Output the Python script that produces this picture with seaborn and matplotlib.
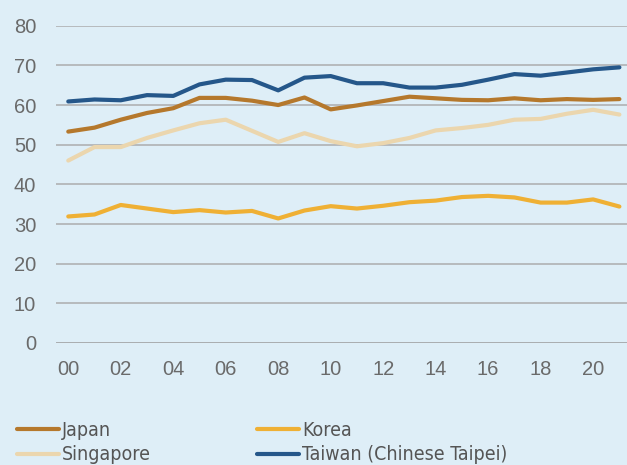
import matplotlib
matplotlib.use("Agg")
import matplotlib.pyplot as plt
from matplotlib import font_manager
import seaborn as sns
import pandas as pd

years = list(range(2000, 2022))
year_labels = ["00", "02", "04", "06", "08", "10", "12", "14", "16", "18", "20"]

japan = [53.3, 54.3, 56.3, 58.0, 59.2, 61.8, 61.8, 61.1, 60.0, 61.9, 58.9,
         59.9, 61.0, 62.1, 61.7, 61.3, 61.2, 61.7, 61.2, 61.5, 61.3, 61.5]
korea = [31.9, 32.4, 34.8, 33.9, 33.0, 33.5, 32.9, 33.3, 31.4, 33.4, 34.5,
         33.9, 34.6, 35.5, 35.9, 36.8, 37.1, 36.7, 35.4, 35.4, 36.2, 34.4]
singapore = [46.0, 49.4, 49.4, 51.7, 53.6, 55.4, 56.3, 53.5, 50.7, 52.9, 50.9,
             49.6, 50.4, 51.7, 53.6, 54.2, 55.0, 56.3, 56.5, 57.8, 58.8, 57.6]
taiwan = [60.9, 61.4, 61.2, 62.5, 62.3, 65.2, 66.4, 66.3, 63.7, 66.9, 67.3,
          65.5, 65.5, 64.4, 64.4, 65.1, 66.4, 67.8, 67.4, 68.2, 69.0, 69.5]

series_names = ["Japan", "Korea", "Singapore", "Taiwan (Chinese Taipei)"]
series_values = [japan, korea, singapore, taiwan]
colors = ["#b5782c", "#efb034", "#ebd6ae", "#25578a"]

df = pd.DataFrame(
    [(y, name, v) for name, vals in zip(series_names, series_values)
     for y, v in zip(years, vals)],
    columns=["year", "economy", "value"],
)

bg = "#deeef7"
sns.set_theme(style="white")
plt.rcParams["font.family"] = ["Liberation Sans", "DejaVu Sans"]

# A narrow face for the legend labels
installed = {f.name for f in font_manager.fontManager.ttflist}
if "Liberation Sans Narrow" in installed:
    legend_font = dict(family="Liberation Sans Narrow", size=15)
else:
    legend_font = dict(family="DejaVu Sans", stretch="condensed", size=14)

fig = plt.figure(figsize=(6.27, 4.65), dpi=100, facecolor=bg)
ax = fig.add_axes([0.0888, 0.2624, 0.9112, 0.6823])
ax.set_facecolor(bg)

sns.lineplot(data=df, x="year", y="value", hue="economy",
             hue_order=series_names, palette=colors, linewidth=3.0,
             ax=ax, legend=False, zorder=3)

ax.set_xlim(1999.52, 2021.29)
ax.set_ylim(0, 80)
ax.set_yticks(range(0, 81, 10))
ax.set_xticks(years[::2])
ax.set_xticklabels(year_labels)
ax.set_xlabel("")
ax.set_ylabel("")
for s in ax.spines.values():
    s.set_visible(False)
ax.yaxis.grid(True, color="#b6babd", linewidth=1.4, zorder=1)
ax.axhline(0, color="#a9adb0", linewidth=2.0, zorder=2)
ax.tick_params(axis="both", length=0, labelsize=14.5, labelcolor="#6a6a6a")
ax.tick_params(axis="y", pad=14)
ax.tick_params(axis="x", pad=12)

# Two single-column legends, one per column, laid out row by row
handles = [plt.Line2D([], [], color=c, linewidth=3.0) for c in colors]
legend_kw = dict(loc="center left", frameon=False, prop=legend_font,
                 handlelength=2.15, handletextpad=0.15, labelspacing=0.3,
                 borderpad=0, borderaxespad=0)
col_x = [0.027, 0.410]
for i, x0 in enumerate(col_x):
    leg = fig.legend([handles[i], handles[i + 2]],
                     [series_names[i], series_names[i + 2]],
                     bbox_to_anchor=(x0, 0.0484), **legend_kw)
    for t in leg.get_texts():
        t.set_color("#555555")

fig.savefig("out.png", dpi=100, facecolor=bg)
